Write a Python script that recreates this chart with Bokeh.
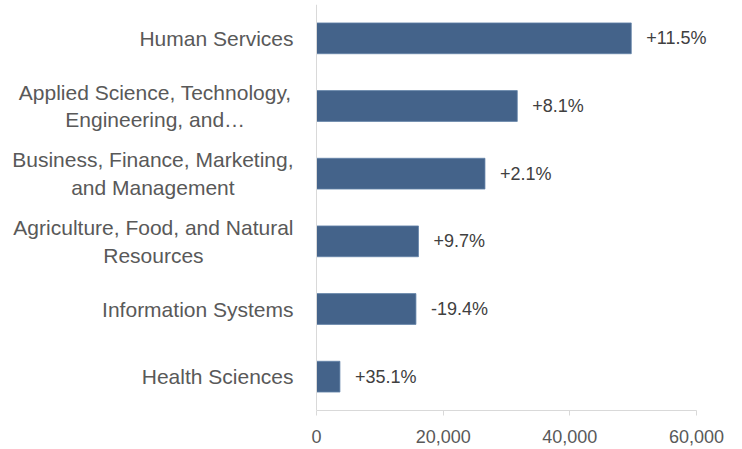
from bokeh.plotting import figure
from bokeh.models import (ColumnDataSource, LabelSet, FactorRange, Range1d,
                          NumeralTickFormatter, FixedTicker, Span)
from bokeh.core.properties import value
from bokeh.embed import file_html
from bokeh.resources import INLINE

categories = [
    "Human Services",
    "Applied Science, Technology,\nEngineering, and\u2026",
    "Business, Finance, Marketing,\nand Management",
    "Agriculture, Food, and Natural\nResources",
    "Information Systems",
    "Health Sciences",
]
values = [49700, 31700, 26600, 16100, 15700, 3700]
changes = ["+11.5%", "+8.1%", "+2.1%", "+9.7%", "-19.4%", "+35.1%"]
x_ticks = [0, 20000, 40000, 60000]

# ---- layout / style constants ----
W, H = 742, 449
AXIS_LEFT_PX = 316      # pixel where value 0 sits
AXIS_PX = 380           # pixel length of 0..60000
CAT_FONT_PX = 21
LABEL_GAP_PX = 23       # gap between category label block and the axis line
x_max = x_ticks[-1]
per_px = x_max / AXIS_PX
x_start = -AXIS_LEFT_PX * per_px
x_end = (W - AXIS_LEFT_PX) * per_px

# Liberation Sans (Arial-metric) advance widths, 1/1000 em
_ADV = {' ': 278, ',': 278, '.': 278, '\u2026': 1000,
        'A': 667, 'B': 667, 'E': 667, 'F': 611, 'H': 722, 'I': 278, 'M': 833,
        'N': 722, 'R': 722, 'S': 667, 'T': 611,
        'a': 556, 'b': 556, 'c': 500, 'd': 556, 'e': 556, 'f': 278, 'g': 556,
        'h': 556, 'i': 222, 'k': 500, 'l': 222, 'm': 833, 'n': 556, 'o': 556,
        'p': 556, 'r': 333, 's': 500, 't': 278, 'u': 556, 'v': 500, 'y': 500}

def text_width_px(s, size):
    return max(sum(_ADV.get(ch, 556) for ch in line) for line in s.split("\n")) * size / 1000.0

cat_x = [(-LABEL_GAP_PX - text_width_px(c, CAT_FONT_PX) / 2.0) * per_px for c in categories]

src = ColumnDataSource(dict(cat=categories, val=values, lab=changes, cx=cat_x))

p = figure(
    width=W, height=H,
    y_range=FactorRange(*categories[::-1]),
    x_range=Range1d(x_start, x_end),
    y_axis_location=None,
    output_backend="svg", toolbar_location=None,
    min_border_left=0, min_border_right=0, min_border_top=4, min_border_bottom=39,
)
p.outline_line_color = None
p.background_fill_color = "white"
p.border_fill_color = "white"
p.xgrid.grid_line_color = None
p.ygrid.grid_line_color = None

grey_axis = "#d9d9d9"

# vertical category axis line at value 0
p.add_layout(Span(location=0, dimension="height", line_color=grey_axis, line_width=1))

p.hbar(y="cat", right="val", left=0, height=0.455, source=src,
       fill_color="#44638a", line_color="#6383a8", line_width=0.8)

# category labels (multi-line, centred lines, block right-aligned to the axis)
p.text(x="cx", y="cat", text="cat", source=src,
       text_align="center", text_baseline="middle",
       text_font=value("Liberation Sans"), text_font_size=f"{CAT_FONT_PX}px",
       text_color="#595959", text_line_height=1.2)

labels = LabelSet(x="val", y="cat", text="lab", source=src, x_offset=15,
                  text_align="left", text_baseline="middle",
                  text_font=value("Liberation Sans"), text_font_size="18px",
                  text_color="#404040")
p.add_layout(labels)

p.xaxis.bounds = (0, x_max)
p.xaxis.ticker = FixedTicker(ticks=x_ticks)
p.xaxis.formatter = NumeralTickFormatter(format="0,0")
p.xaxis.axis_line_color = grey_axis
p.xaxis.major_tick_line_color = grey_axis
p.xaxis.major_tick_out = 5
p.xaxis.major_tick_in = 0
p.xaxis.minor_tick_line_color = None
p.xaxis.major_label_text_font = "Liberation Sans"
p.xaxis.major_label_text_font_size = "18px"
p.xaxis.major_label_text_color = "#595959"
p.xaxis.major_label_standoff = 14

open("out.html", "w").write(file_html(p, INLINE))
